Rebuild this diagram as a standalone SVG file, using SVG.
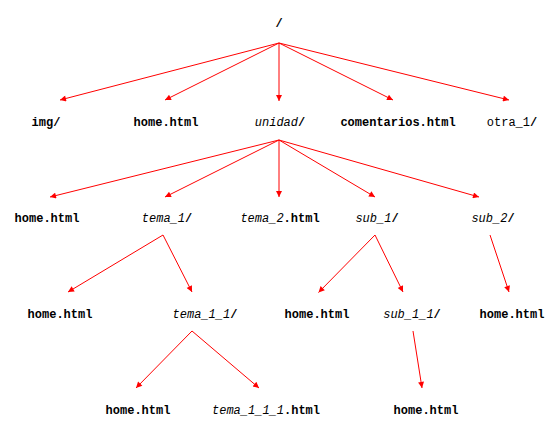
<svg xmlns="http://www.w3.org/2000/svg" width="558" height="441" viewBox="0 0 558 441">
<style>
text{font-family:"Liberation Mono","Courier New",monospace;font-size:12px;fill:#000;text-anchor:middle}
.b{font-weight:bold}
.i{font-style:italic}
.e line{stroke:#ff0000;stroke-width:1;marker-end:url(#ah)}
</style>
<defs>
<marker id="ah" viewBox="0 0 10 10" refX="10" refY="5" markerWidth="8" markerHeight="6" markerUnits="userSpaceOnUse" orient="auto">
<path d="M0,0L10,5L0,10z" fill="#ff0000"/>
</marker>
</defs>
<rect width="558" height="441" fill="#fff"/>
<g class="e" id="connectors">
<line x1="279" y1="43" x2="60" y2="100"/>
<line x1="279" y1="43" x2="165" y2="100"/>
<line x1="279" y1="43" x2="279" y2="101"/>
<line x1="279" y1="43" x2="393" y2="100"/>
<line x1="279" y1="43" x2="509" y2="100"/>
<line x1="279" y1="140" x2="50" y2="197"/>
<line x1="279" y1="140" x2="165" y2="197"/>
<line x1="279" y1="140" x2="279" y2="197"/>
<line x1="279" y1="140" x2="375" y2="197"/>
<line x1="279" y1="140" x2="479" y2="197"/>
<line x1="163" y1="235" x2="68" y2="292"/>
<line x1="163" y1="235" x2="192" y2="292"/>
<line x1="375" y1="235" x2="318.5" y2="292.5"/>
<line x1="375" y1="235" x2="403" y2="292"/>
<line x1="490" y1="235" x2="509" y2="292"/>
<line x1="192" y1="331" x2="136" y2="388"/>
<line x1="192" y1="331" x2="259" y2="388"/>
<line x1="413" y1="331" x2="422" y2="388"/>
</g>
<g id="root"><text x="279" y="27" class="b">/</text></g>
<g id="img"><text x="46" y="126" class="b">img/</text></g>
<g id="home1"><text x="166" y="126" class="b">home.html</text></g>
<g id="unidad"><text x="280" y="126"><tspan class="i">unidad</tspan><tspan class="b">/</tspan></text></g>
<g id="comentarios"><text x="398" y="126" class="b">comentarios.html</text></g>
<g id="otra"><text x="512" y="126">otra_1<tspan class="b">/</tspan></text></g>
<g id="home2"><text x="47" y="222" class="b">home.html</text></g>
<g id="tema1"><text x="167" y="222"><tspan class="i">tema_1</tspan><tspan class="b">/</tspan></text></g>
<g id="tema2"><text x="280" y="222"><tspan class="i">tema_2</tspan><tspan class="b">.html</tspan></text></g>
<g id="sub1"><text x="377" y="222"><tspan class="i">sub_1</tspan><tspan class="b">/</tspan></text></g>
<g id="sub2"><text x="493" y="222"><tspan class="i">sub_2</tspan><tspan class="b">/</tspan></text></g>
<g id="home3"><text x="60" y="318" class="b">home.html</text></g>
<g id="tema11"><text x="205" y="318"><tspan class="i">tema_1_1</tspan><tspan class="b">/</tspan></text></g>
<g id="home4"><text x="317" y="318" class="b">home.html</text></g>
<g id="sub11"><text x="412" y="318"><tspan class="i">sub_1_1</tspan><tspan class="b">/</tspan></text></g>
<g id="home5"><text x="512" y="318" class="b">home.html</text></g>
<g id="home6"><text x="138" y="414" class="b">home.html</text></g>
<g id="tema111"><text x="266" y="414"><tspan class="i">tema_1_1_1</tspan><tspan class="b">.html</tspan></text></g>
<g id="home7"><text x="426" y="414" class="b">home.html</text></g>
</svg>
